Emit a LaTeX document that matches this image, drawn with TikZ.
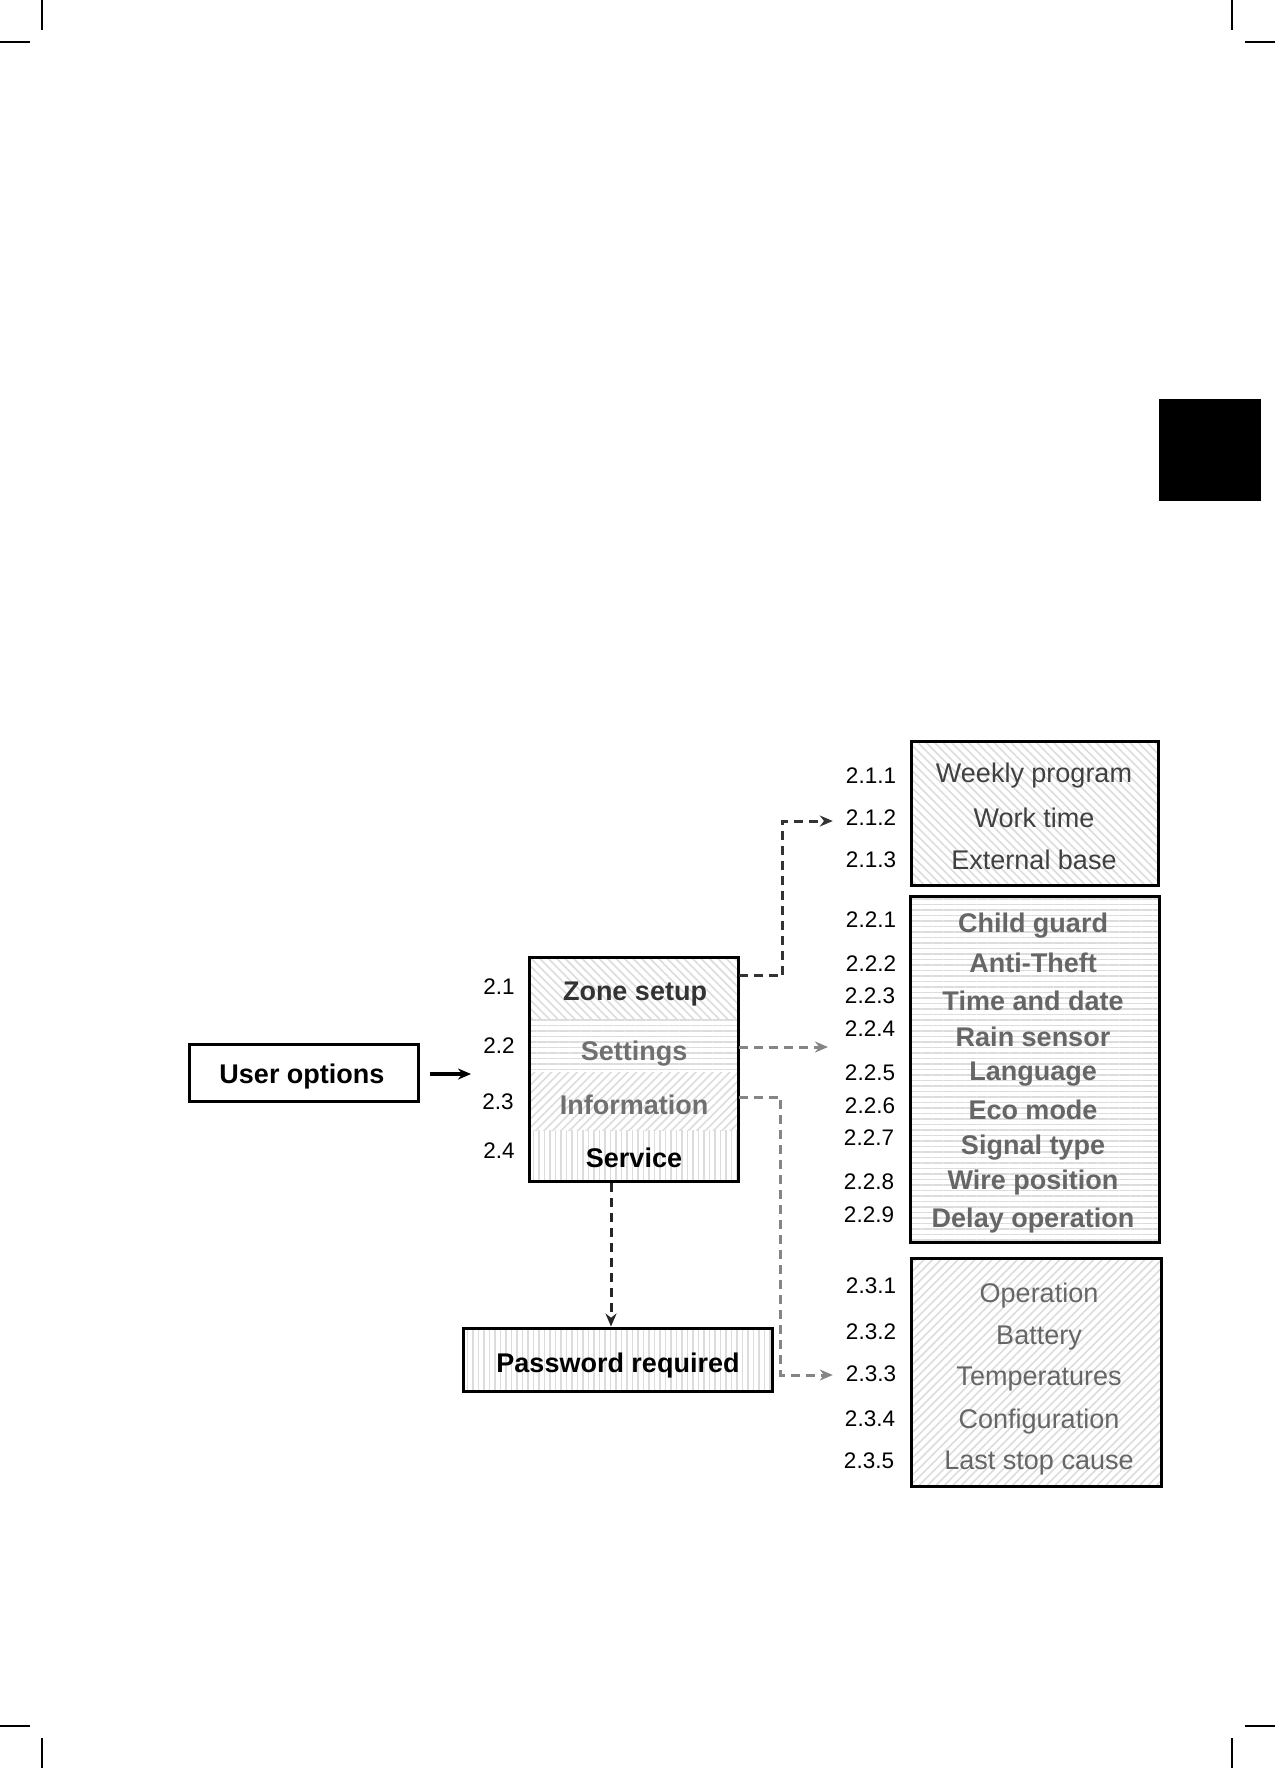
\documentclass[tikz,border=0pt]{standalone}
\usepackage{fontspec}
\setmainfont{Liberation Sans}
\usetikzlibrary{patterns.meta,arrows.meta,fit}
\definecolor{patgray}{HTML}{DCDCDC}
\definecolor{txtdark}{HTML}{333333}
\definecolor{txtmid}{HTML}{707070}
\definecolor{txtbox}{HTML}{404040}
\definecolor{txtgray}{HTML}{666666}
\definecolor{conndark}{HTML}{333333}
\definecolor{conngray}{HTML}{858585}
\newcommand\mainsz{\fontsize{27}{32}\selectfont}
\newcommand\labsz{\fontsize{22.5}{27}\selectfont}
\tikzset{
  pdiagb/.style={pattern={Lines[angle=-45,distance=6pt,line width=1.6pt]},pattern color=patgray},
  pdiagf/.style={pattern={Lines[angle=45,distance=6pt,line width=1.6pt]},pattern color=patgray},
  phoriz/.style={pattern={Lines[angle=0,distance=5.5pt,line width=1.6pt]},pattern color=patgray},
  pvert/.style={pattern={Lines[angle=90,distance=5.5pt,line width=1.6pt]},pattern color=patgray},
  band/.style={inner sep=0pt,minimum width=208pt},
  bandtxt/.style={font=\mainsz\bfseries,inner sep=0pt},
  boxline/.style={draw=black,line width=3pt,inner sep=0pt},
  itemtxt/.style={font=\mainsz,inner sep=0pt},
  lab/.style={font=\labsz,text=black,inner sep=2pt},
  dashconn/.style={line width=3pt,dash pattern=on 9pt off 6pt,-{Stealth[length=13pt,width=11pt]}},
  cropmark/.style={line width=1.5pt,black}
}
\begin{document}
\begin{tikzpicture}[x=1pt,y=-1pt]
\useasboundingbox (0,0) rectangle (1275,1768);
% crop marks
\draw[cropmark] (42,0) -- (42,30);
\draw[cropmark] (0,42) -- (30,42);
\draw[cropmark] (1232,0) -- (1232,30);
\draw[cropmark] (1245,42) -- (1275,42);
\draw[cropmark] (0,1726) -- (30,1726);
\draw[cropmark] (42,1738) -- (42,1768);
\draw[cropmark] (1245,1726) -- (1275,1726);
\draw[cropmark] (1232,1738) -- (1232,1768);
% black tab
\fill[black] (1159,399) rectangle (1261,501);

% User options
\node[boxline,minimum width=229pt,minimum height=57pt] (user) at (303.5,1072.5) {};
\node[bandtxt,text=black] (usert) at (302,1077) {User options};

% main menu bands
\node[band,pdiagb,minimum height=61pt] (zone) at (634,988.5) {};
\node[band,phoriz,minimum height=53pt] (settings) at (634,1045.5) {};
\node[band,pdiagf,minimum height=58pt] (info) at (634,1101) {};
\node[band,pvert,minimum height=51pt] (service) at (634,1155.5) {};
\node[boxline,fit=(zone)(service)] (menu) {};
\node[bandtxt,text=txtdark] (zonet) at (635,994) {Zone setup};
\node[bandtxt,text=txtmid] (settingst) at (634,1054) {Settings};
\node[bandtxt,text=txtmid] (infot) at (634,1105) {Information};
\node[bandtxt,text=black] (servicet) at (634,1158) {Service};
\node[lab] (l21) at (499,987) {2.1};
\node[lab] (l22) at (499,1046) {2.2};
\node[lab] (l23) at (498,1102) {2.3};
\node[lab] (l24) at (499,1151) {2.4};

\draw[line width=3.4pt,-{Stealth[length=13pt,width=11pt]}] (user.east -| 430,0) ++(0,1.5) -- (471,1074);

% Password
\node[boxline,pvert,minimum width=309pt,minimum height=63pt] (pw) at (617.5,1359.5) {};
\node[bandtxt,text=black] (pwt) at (618,1366) {Password required};

% box 2.1
\node[boxline,pdiagb,minimum width=247pt,minimum height=144pt] (box21) at (1034.5,813) {};
\node[itemtxt,text=txtbox] (i211) at (1034,776) {Weekly program};
\node[itemtxt,text=txtbox] (i212) at (1034,818) {Work time};
\node[itemtxt,text=txtbox] (i213) at (1034,860) {External base};
\node[lab] (l211) at (871,776) {2.1.1};
\node[lab] (l212) at (871,818) {2.1.2};
\node[lab] (l213) at (871,860) {2.1.3};

% box 2.2
\node[boxline,phoriz,minimum width=249pt,minimum height=346pt] (box22) at (1034.5,1069) {};
\node[bandtxt,text=txtgray] (i221) at (1033,926) {Child guard};
\node[bandtxt,text=txtgray] (i222) at (1033,963) {Anti-Theft};
\node[bandtxt,text=txtgray] (i223) at (1033,1001) {Time and date};
\node[bandtxt,text=txtgray] (i224) at (1033,1037) {Rain sensor};
\node[bandtxt,text=txtgray] (i225) at (1033,1074) {Language};
\node[bandtxt,text=txtgray] (i226) at (1033,1110) {Eco mode};
\node[bandtxt,text=txtgray] (i227) at (1033,1148) {Signal type};
\node[bandtxt,text=txtgray] (i228) at (1033,1183) {Wire position};
\node[bandtxt,text=txtgray] (i229) at (1033,1221) {Delay operation};
\node[lab] (l221) at (871,920) {2.2.1};
\node[lab] (l222) at (871,964) {2.2.2};
\node[lab] (l223) at (870,996) {2.2.3};
\node[lab] (l224) at (870,1029) {2.2.4};
\node[lab] (l225) at (870,1073) {2.2.5};
\node[lab] (l226) at (870,1106) {2.2.6};
\node[lab] (l227) at (869,1138) {2.2.7};
\node[lab] (l228) at (869,1182) {2.2.8};
\node[lab] (l229) at (869,1215) {2.2.9};

% box 2.3
\node[boxline,pdiagf,minimum width=250pt,minimum height=228pt] (box23) at (1036,1372) {};
\node[itemtxt,text=txtgray] (i231) at (1039,1296) {Operation};
\node[itemtxt,text=txtgray] (i232) at (1039,1338) {Battery};
\node[itemtxt,text=txtgray] (i233) at (1039,1379) {Temperatures};
\node[itemtxt,text=txtgray] (i234) at (1039,1422) {Configuration};
\node[itemtxt,text=txtgray] (i235) at (1039,1463) {Last stop cause};
\node[lab] (l231) at (871,1286) {2.3.1};
\node[lab] (l232) at (871,1332) {2.3.2};
\node[lab] (l233) at (871,1374) {2.3.3};
\node[lab] (l234) at (870,1419) {2.3.4};
\node[lab] (l235) at (869,1461) {2.3.5};

% connectors
\coordinate (c2end) at (828,1047);
\draw[dashconn,conndark] ([yshift=13pt]zone.east) -- ++(44,0) |- ([xshift=-11pt,yshift=-3pt]l212.west);
\draw[dashconn,conngray] ([yshift=-1.5pt]settings.east) -- (c2end);
\draw[dashconn,conngray] ([yshift=4pt]info.east) -- ++(42,0) |- ([xshift=-11pt,yshift=-1pt]l233.west);
\draw[dashconn,black!85] ([xshift=-23pt]menu.south) -- ([xshift=-23pt]menu.south |- pw.north);
\end{tikzpicture}
\end{document}
